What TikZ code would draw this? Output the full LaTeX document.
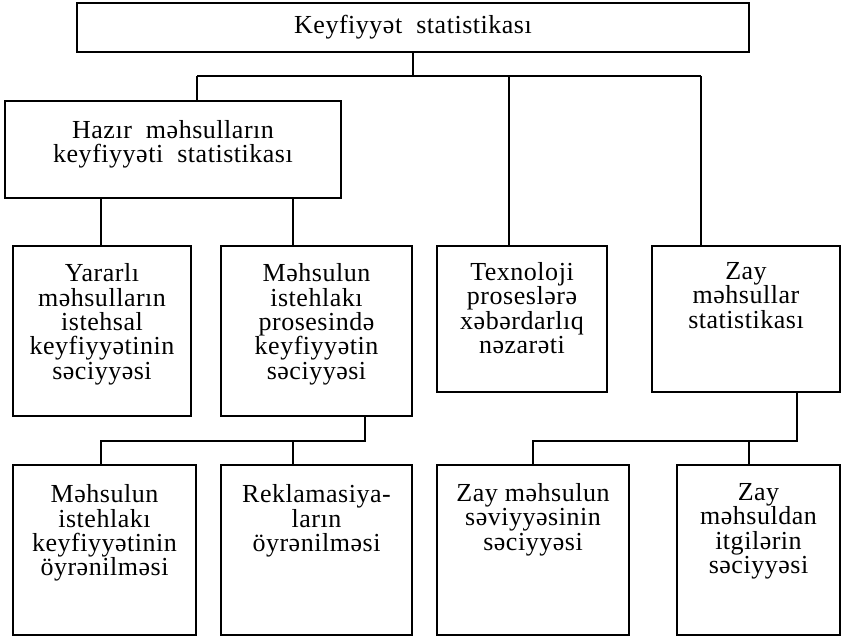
\documentclass[tikz,border=0pt]{standalone}
\usepackage{fontspec}
\setmainfont[LetterSpace=2.0]{Liberation Serif}
\tikzset{
  box/.style={draw, line width=2pt, inner sep=0pt, outer sep=0pt, anchor=north west},
  lbl/.style={anchor=north, align=center, inner sep=0pt, font=\fontsize{26}{24.4}\selectfont},
  link/.style={line width=2pt},
}
\begin{document}
\begin{tikzpicture}[x=1pt,y=-1pt]
\useasboundingbox (0,0) rectangle (843,636);
% boxes
\node[box, minimum width=672, minimum height=49] (top) at (77,3) {};
\node[box, minimum width=336, minimum height=97] (hazir) at (5,101) {};
\node[box, minimum width=178, minimum height=170] (yar) at (13,246) {};
\node[box, minimum width=191, minimum height=170] (mis) at (221,246) {};
\node[box, minimum width=170, minimum height=146] (tex) at (437,246) {};
\node[box, minimum width=188, minimum height=146] (zay) at (652,246) {};
\node[box, minimum width=183, minimum height=169.5] (b1) at (13,465) {};
\node[box, minimum width=191, minimum height=169.5] (b2) at (221,465) {};
\node[box, minimum width=192, minimum height=169.5] (b3) at (437,465) {};
\node[box, minimum width=163, minimum height=169.5] (b4) at (677,465) {};
% texts
\node[lbl, anchor=center] (ttop) at (top.center) {Keyfiyyət\ \ statistikası};
\node[lbl] (thazir) at ([yshift=-19pt]hazir.north) {Hazır\ \ məhsulların\\keyfiyyəti\ \ statistikası};
\node[lbl] (tyar) at ([yshift=-17.5pt]yar.north) {Yararlı\\məhsulların\\istehsal\\keyfiyyətinin\\səciyyəsi};
\node[lbl] (tmis) at ([yshift=-17.5pt]mis.north) {Məhsulun\\istehlakı\\prosesində\\keyfiyyətin\\səciyyəsi};
\node[lbl] (ttex) at ([yshift=-16pt]tex.north) {Texnoloji\\proseslərə\\xəbərdarlıq\\nəzarəti};
\node[lbl] (tzay) at ([yshift=-16pt]zay.north) {Zay\\məhsullar\\statistikası};
\node[lbl] (tb1) at ([yshift=-19.5pt]b1.north) {Məhsulun\\istehlakı\\keyfiyyətinin\\öyrənilməsi};
\node[lbl] (tb2) at ([yshift=-19.5pt]b2.north) {Reklamasiya-\\ların\\öyrənilməsi};
\node[lbl] (tb3) at ([yshift=-18pt]b3.north) {Zay məhsulun\\səviyyəsinin\\səciyyəsi};
\node[lbl] (tb4) at ([yshift=-18pt]b4.north) {Zay\\məhsuldan\\itgilərin\\səciyyəsi};
% connectors
\coordinate (busL) at (197,76);
\coordinate (busM) at (509,76);
\coordinate (busR) at (701,76);
\draw[link] (top.south) -- (top.south |- busL);
\draw[link] (busL) -- (busR);
\draw[link] (busL) -- (busL |- hazir.north);
\draw[link] (busM) -- (busM |- tex.north);
\draw[link] (busR) -- (busR |- zay.north);
\coordinate (h1) at (101,198);
\coordinate (h2) at (293,198);
\draw[link] (h1 |- hazir.south) -- (h1 |- yar.north);
\draw[link] (h2 |- hazir.south) -- (h2 |- mis.north);
\coordinate (m) at (365,441);
\coordinate (mL) at (101,441);
\coordinate (mM) at (293,441);
\draw[link] (m |- mis.south) -- (m) -- (mL) -- (mL |- b1.north);
\draw[link] (mM) -- (mM |- b2.north);
\coordinate (z) at (797,441);
\coordinate (zL) at (533,441);
\coordinate (zM) at (749,441);
\draw[link] (z |- zay.south) -- (z) -- (zL) -- (zL |- b3.north);
\draw[link] (zM) -- (zM |- b4.north);
\end{tikzpicture}
\end{document}
